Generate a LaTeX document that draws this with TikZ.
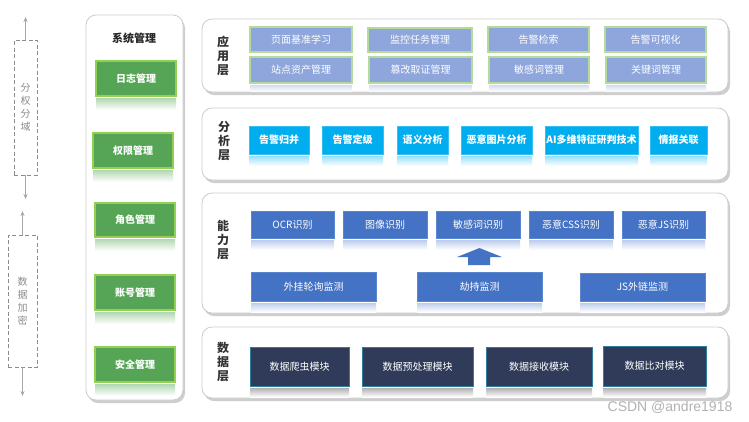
\documentclass[tikz,border=0pt]{standalone}
\usepackage{fontspec}
\setmainfont{Noto Sans CJK SC}
\newfontfamily\wmfont{Liberation Sans}
\usetikzlibrary{shadows,arrows.meta}
\definecolor{gfill}{HTML}{56A556}
\definecolor{gedge}{HTML}{92D050}
\definecolor{afill}{HTML}{8EA6DB}
\definecolor{aedge}{HTML}{B5DB9A}
\definecolor{bfill}{HTML}{00AEEF}
\definecolor{bedge}{HTML}{33C0F2}
\definecolor{cfill}{HTML}{4472C4}
\definecolor{cedge}{HTML}{5A85CF}
\definecolor{dfill}{HTML}{2F3B58}
\definecolor{dedge}{HTML}{2F7F9A}
\definecolor{pedge}{HTML}{CCCCCC}
\definecolor{labtxt}{HTML}{333333}
\definecolor{sidegray}{HTML}{8C8C8C}
\newcommand\mybox[7]{\node[#6, minimum width={(#4-#2)*1pt}, minimum height={(#5-#3)*1pt}] (#1) at ({(#2+#4)/2},{(#3+#5)/2}) {#7};}
\newcommand\myrefl[3]{\shade[top color=#2, bottom color=white] ([yshift=-2pt]#1.south west) rectangle ([yshift=-#3pt]#1.south east);}
\begin{document}
\begin{tikzpicture}[x=1pt,y=-1pt,
  every node/.style={inner sep=0pt, outer sep=0pt},
  panel/.style={draw=pedge, line width=0.8pt, fill=white, rounded corners=10pt,
    drop shadow={shadow xshift=2pt, shadow yshift=-3pt, opacity=0.35, fill=black!55}},
  gbox/.style={draw=gedge, line width=1.2pt, fill=gfill, text=white, font=\bfseries\fontsize{10}{12}\selectfont},
  abox/.style={draw=aedge, line width=1.2pt, fill=afill, text=white, font=\fontsize{10}{12}\selectfont},
  bbox/.style={draw=bedge, line width=0.6pt, fill=bfill, text=white, font=\bfseries\fontsize{10}{12}\selectfont},
  cbox/.style={draw=cedge, line width=0.6pt, fill=cfill, text=white, font=\fontsize{10}{12}\selectfont},
  dbox/.style={draw=dedge, line width=1pt, fill=dfill, text=white, font=\fontsize{10}{12}\selectfont},
  laytxt/.style={text=labtxt, align=center, font=\bfseries\fontsize{12}{14}\selectfont},
  sidebox/.style={draw=sidegray, line width=1pt, dash pattern=on 4pt off 2.5pt, text=sidegray, align=center, font=\fontsize{10}{13}\selectfont},
  sidearrow/.style={draw=black!35, line width=0.9pt, -{Stealth[length=5pt,width=4pt]}}
]
\useasboundingbox (0,0) rectangle (749,421);
\fill[white] (0,0) rectangle (749,421);

% panels
\mybox{P0}{86}{15}{183}{400}{panel}{}
\mybox{P1}{202}{19}{728}{92}{panel}{}
\mybox{P2}{202}{108}{728}{180}{panel}{}
\mybox{P3}{202}{193}{728}{313}{panel}{}
\mybox{P4}{202}{327}{728}{398}{panel}{}

% left side dashed boxes and arrows
\mybox{k1}{14}{40}{37}{175}{sidebox}{分\\权\\分\\域}
\mybox{k2}{8}{235}{37}{367}{sidebox}{数\\据\\加\\密}
\coordinate (t1) at (25.5,17);
\coordinate (t2) at (25.5,199);
\coordinate (t3) at (22.5,211);
\coordinate (t4) at (22.5,396);
\draw[sidearrow] (k1.north) -- (t1);
\draw[sidearrow] (k1.south) -- (t2);
\draw[sidearrow] (k2.north) -- (t3);
\draw[sidearrow] (k2.south) -- (t4);

% system management
\node[font=\bfseries\fontsize{11}{13}\selectfont, text=black!85] (sys) at (134,38) {系统管理};
\mybox{g1}{96}{61}{176}{96}{gbox}{日志管理}
\mybox{g2}{93}{133}{173}{168}{gbox}{权限管理}
\mybox{g3}{95}{203}{175}{237}{gbox}{角色管理}
\mybox{g4}{95}{275}{175}{310}{gbox}{账号管理}
\mybox{g5}{95}{347}{175}{382}{gbox}{安全管理}
\foreach \g in {g1,g2,g3,g4,g5}{\myrefl{\g}{gfill!45}{14}}

% layer labels
\node[laytxt] (L1) at (223,56) {应\\用\\层};
\node[laytxt] (L2) at (224,141) {分\\析\\层};
\node[laytxt] (L3) at (223,240) {能\\力\\层};
\node[laytxt] (L4) at (223,362) {数\\据\\层};

% application layer
\mybox{a1}{250}{27}{352}{52}{abox}{页面基准学习}
\mybox{a2}{368}{28}{472}{52}{abox}{监控任务管理}
\mybox{a3}{488}{27}{589}{52}{abox}{告警检索}
\mybox{a4}{605}{27}{706}{52}{abox}{告警可视化}
\mybox{a5}{250}{57}{352}{83}{abox}{站点资产管理}
\mybox{a6}{369}{57}{472}{83}{abox}{篡改取证管理}
\mybox{a7}{489}{57}{589}{83}{abox}{敏感词管理}
\mybox{a8}{606}{57}{706}{83}{abox}{关键词管理}
\foreach \a in {a5,a6,a7,a8}{\myrefl{\a}{afill!40}{8.5}}

% analysis layer
\mybox{b1}{249}{126}{309}{154}{bbox}{告警归并}
\mybox{b2}{322}{126}{383}{154}{bbox}{告警定级}
\mybox{b3}{397}{126}{448}{154}{bbox}{语义分析}
\mybox{b4}{461}{126}{532}{154}{bbox}{恶意图片分析}
\mybox{b5}{545}{126}{638}{154}{bbox}{AI多维特征研判技术}
\mybox{b6}{650}{126}{707}{154}{bbox}{情报关联}
\foreach \b in {b1,b2,b3,b4,b5,b6}{\myrefl{\b}{bfill!40}{12}}

% ability layer
\mybox{c1}{251}{211}{334}{238}{cbox}{OCR识别}
\mybox{c2}{343}{211}{427}{238}{cbox}{图像识别}
\mybox{c3}{436}{211}{520}{238}{cbox}{敏感词识别}
\mybox{c4}{529}{211}{613}{238}{cbox}{恶意CSS识别}
\mybox{c5}{622}{211}{705}{238}{cbox}{恶意JS识别}
\mybox{c6}{251}{272}{376}{301}{cbox}{外挂轮询监测}
\mybox{c7}{417}{272}{542}{301}{cbox}{劫持监测}
\mybox{c8}{580}{273}{705}{301}{cbox}{JS外链监测}
\foreach \c in {c1,c2,c3,c4,c5}{\myrefl{\c}{cfill!35}{12}}
\foreach \c in {c6,c7,c8}{\myrefl{\c}{cfill!35}{11}}

% block arrow from 劫持监测 up to 敏感词识别
\fill[cfill] (468,265) -- (468,257) -- (457,257) -- (479.5,248) -- (502,257) -- (490,257) -- (490,265) -- cycle;

% data layer
\mybox{d1}{250}{347}{349}{386}{dbox}{数据爬虫模块}
\mybox{d2}{362}{347}{473}{386}{dbox}{数据预处理模块}
\mybox{d3}{486}{347}{592}{386}{dbox}{数据接收模块}
\mybox{d4}{603}{346}{706}{386}{dbox}{数据比对模块}
\foreach \d in {d1,d2,d3,d4}{\myrefl{\d}{black!30}{11}}

% watermark
\node[text=black!30, font=\wmfont\fontsize{14}{16}\selectfont] (wm) at (670,407) {CSDN @andre1918};
\end{tikzpicture}
\end{document}
